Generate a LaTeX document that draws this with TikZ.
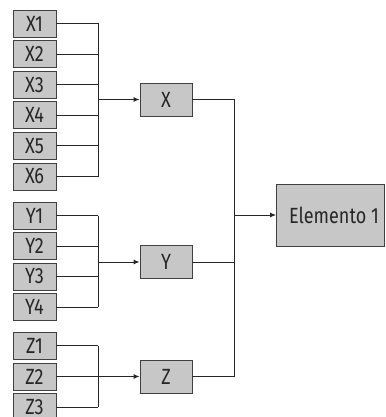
\documentclass[tikz,border=0pt]{standalone}
\usepackage{fontspec}
\setmainfont{Fira Sans}[FakeStretch=0.82]
\usetikzlibrary{arrows.meta}
\begin{document}
\begin{tikzpicture}[x=1pt,y=-1pt,
 box/.style={draw=black!75,fill=black!22,line width=0.9pt,inner sep=0pt,minimum height=27pt,minimum width=43pt,text=black!85,font=\fontsize{22}{22}\selectfont},
 mid/.style={box,minimum width=52pt,minimum height=33pt},
 big/.style={box,minimum width=108pt,minimum height=62pt},
 wire/.style={line width=0.9pt,draw=black!85},
 arr/.style={wire,-{Latex[length=6pt,width=5pt]}}]
\useasboundingbox (0,0) rectangle (385,417);
\foreach \i/\yy in {1/23.5,2/54.1,3/84.7,4/115.3,5/145.9,6/176.5}
  \node[box] (x\i) at (34.5,\yy) {X\i};
\foreach \i/\yy in {1/215.5,2/246,3/276.5,4/307}
  \node[box] (y\i) at (34.5,\yy) {Y\i};
\foreach \i/\yy in {1/345.5,2/376.5,3/407}
  \node[box] (z\i) at (34.5,\yy) {Z\i};
\node[mid] (X) at (166,99.5) {X};
\node[mid] (Y) at (166,262) {Y};
\node[mid] (Z) at (166,376.5) {Z};
\node[big] (E) at (330.5,215) {\hspace{7pt}Elemento 1};
\coordinate (lb) at (98,0);
\coordinate (rb) at (234,0);
\foreach \i in {1,...,6} \draw[wire] (x\i.east) -- (x\i.east -| lb);
\draw[wire] (x1.east -| lb) -- (x6.east -| lb);
\draw[arr] (X.west -| lb) -- (X.west);
\foreach \i in {1,...,4} \draw[wire] (y\i.east) -- (y\i.east -| lb);
\draw[wire] (y1.east -| lb) -- (y4.east -| lb);
\draw[arr] (Y.west -| lb) -- (Y.west);
\foreach \i in {1,...,3} \draw[wire] (z\i.east) -- (z\i.east -| lb);
\draw[wire] (z1.east -| lb) -- (z3.east -| lb);
\draw[arr] (Z.west -| lb) -- (Z.west);
\draw[wire] (X.east) -- (X.east -| rb) -- (Z.east -| rb) -- (Z.east);
\draw[wire] (Y.east) -- (Y.east -| rb);
\draw[arr] (E.west -| rb) -- (E.west);
\end{tikzpicture}
\end{document}
